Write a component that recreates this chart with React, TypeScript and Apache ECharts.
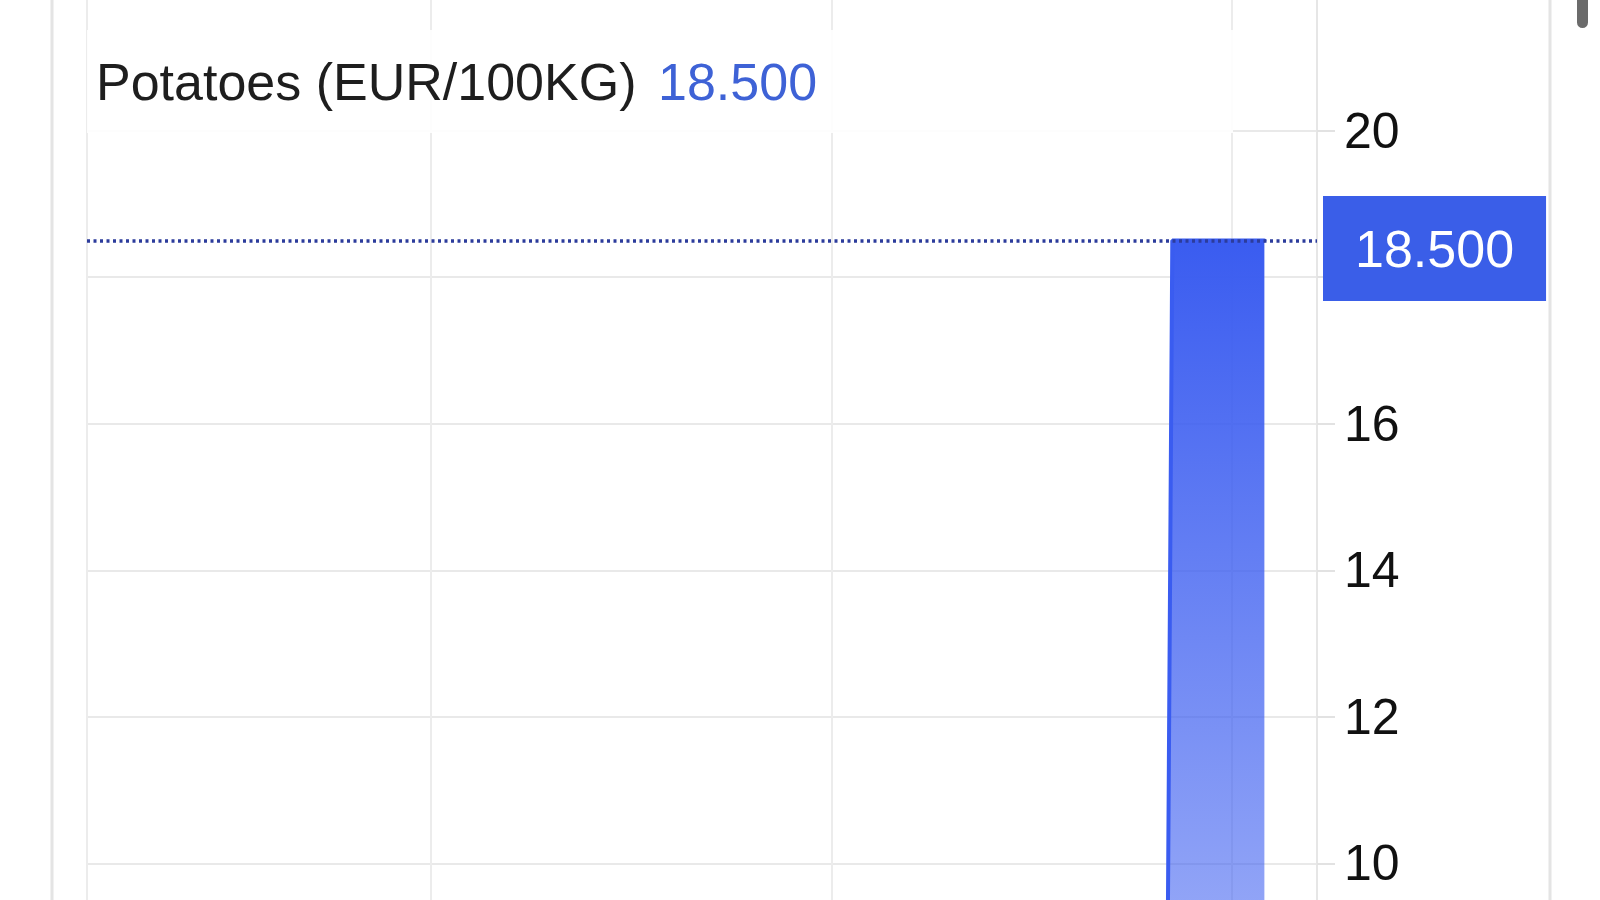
import React, { useEffect, useRef } from 'react';
import * as echarts from 'echarts';

// price history (only the tail is inside the visible crop)
const dates = ['2023-11-01', '2023-11-08', '2024-01-31'];
const prices = [2.5, 18.5, 18.5];
const lastPrice = 18.5;

const titleText = 'Potatoes (EUR/100KG)';
const xRange = ['2021-02-21', '2024-03-19'];
const yMin = 8;
const yMax = 22;
const yStep = 2;

const FONT = '"Liberation Sans", Arial, Helvetica, sans-serif';
const BLUE = '#3a5cf0';

export default function App() {
  const chartRef = useRef<HTMLDivElement>(null);

  useEffect(() => {
    if (!chartRef.current) return;
    const chart = echarts.init(chartRef.current, undefined, { renderer: 'svg' });

    const option = {
      animation: false,
      backgroundColor: '#ffffff',
      textStyle: { fontFamily: FONT },
      grid: { left: 87, right: 283, top: 44, bottom: 30 },
      xAxis: {
        type: 'time',
        min: xRange[0],
        max: xRange[1],
        splitNumber: 3,
        axisLine: { show: false },
        axisTick: { show: false },
        axisLabel: { show: false },
        splitLine: { show: true, lineStyle: { color: '#ececec', width: 2 } },
      },
      yAxis: {
        type: 'value',
        position: 'right',
        min: yMin,
        max: yMax,
        interval: yStep,
        axisLine: { show: true, lineStyle: { color: '#e6e6e6', width: 2 } },
        axisTick: { show: true, length: 18, lineStyle: { color: '#e2e2e2', width: 2 } },
        axisLabel: {
          color: '#111',
          fontSize: 50,
          margin: 27,
          showMaxLabel: false,
          fontFamily: FONT,
          // the last-price badge sits over the nearest tick label
          formatter: (v: number) => (Math.abs(v - lastPrice) < 1 ? '' : String(v)),
        },
        splitLine: { show: true, lineStyle: { color: '#e9e9e9', width: 2 } },
      },
      series: [
        {
          type: 'line',
          data: dates.map((d, i) => [d, prices[i]]),
          symbol: 'none',
          silent: true,
          lineStyle: { color: BLUE, width: 4, cap: 'round' },
          areaStyle: {
            opacity: 1,
            color: new echarts.graphic.LinearGradient(0, 0, 0, 1, [
              { offset: 0, color: 'rgba(58,92,240,1)' },
              { offset: 1, color: 'rgba(58,92,240,0.22)' },
            ]),
          },
          markLine: {
            silent: true,
            symbol: ['none', 'none'],
            lineStyle: { color: '#2c3c9c', type: [3, 3.5], width: 3.5 },
            label: {
              position: 'end',
              distance: 6,
              formatter: () => lastPrice.toFixed(3),
              backgroundColor: '#3a5ee8',
              color: '#ffffff',
              fontSize: 52,
              fontFamily: FONT,
              padding: [27, 32, 26, 32],
              offset: [0, 8],
            },
            data: [{ yAxis: lastPrice }],
          },
        },
      ],
      graphic: [
        { type: 'line', shape: { x1: 52, y1: 0, x2: 52, y2: 1100 }, style: { stroke: '#e4e4e4', lineWidth: 3 }, z: 1 },
        { type: 'line', shape: { x1: 1550, y1: 0, x2: 1550, y2: 1100 }, style: { stroke: '#e4e4e4', lineWidth: 3 }, z: 1 },
        { type: 'rect', shape: { x: 1577, y: 40, width: 11, height: 48, r: 5.5 }, style: { fill: '#6b6b6b' }, z: 60 },
        {
          type: 'rect',
          shape: { x: 87, y: 90, width: 1146, height: 103 },
          style: { fill: 'rgba(255,255,255,0.9)' },
          z: 50,
        },
        {
          type: 'text',
          x: 96,
          y: 142,
          style: { text: titleText, fontSize: 52, fill: '#1e1e1e', fontFamily: FONT, verticalAlign: 'middle' },
          z: 51,
        },
        {
          type: 'text',
          x: 658,
          y: 142,
          style: { text: lastPrice.toFixed(3), fontSize: 52, fill: '#3e62d6', fontFamily: FONT, verticalAlign: 'middle' },
          z: 51,
        },
      ],
    };

    chart.setOption(option);
    return () => chart.dispose();
  }, []);

  return (
    <div style={{ position: 'fixed', left: 0, top: 0, width: 1600, height: 900, overflow: 'hidden', background: '#fff' }}>
      <div ref={chartRef} style={{ position: 'absolute', left: 0, top: -60, width: 1600, height: 1100 }} />
    </div>
  );
}
